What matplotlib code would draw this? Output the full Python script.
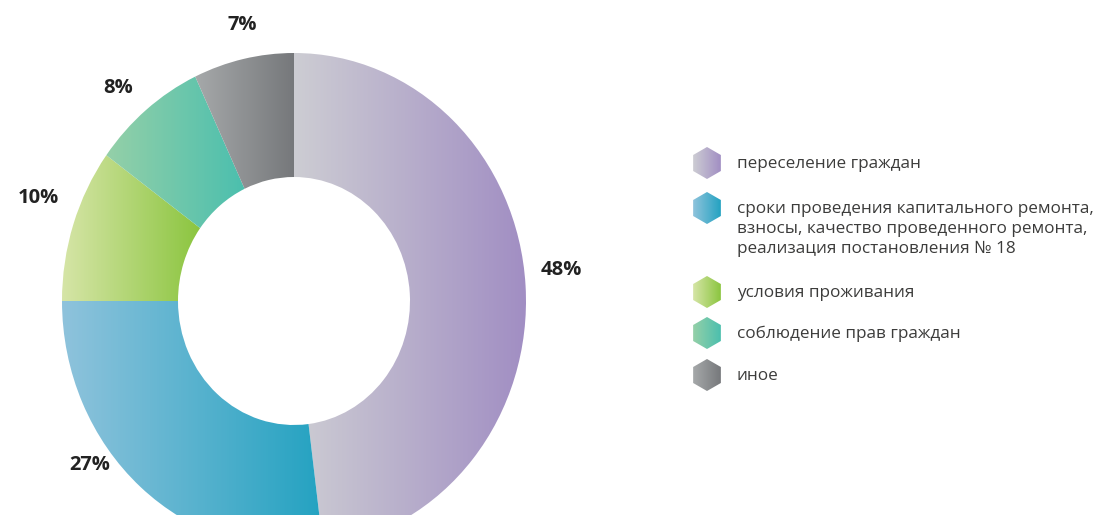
import numpy as np
import matplotlib
matplotlib.use('Agg')
from matplotlib import pyplot as plt
from matplotlib.colors import LinearSegmentedColormap
from matplotlib.patches import RegularPolygon

plt.rcParams['font.family'] = ['Open Sans', 'DejaVu Sans']

# данные
categories = ['переселение граждан',
              'сроки проведения капитального ремонта,\nвзносы, качество проведенного ремонта,\nреализация постановления № 18',
              'условия проживания',
              'соблюдение прав граждан',
              'иное']
values = [48, 27, 10, 8, 7]
grad_left = ['#cdcdd3', '#8fc3dc', '#d6e5a7', '#95d0a8', '#a6a9aa']
grad_right = ['#a18ec3', '#23a2c1', '#8bc53f', '#4bbfae', '#76787b']

# положение подписей (пиксели)
label_pos = [(561, 270), (90, 465), (38, 198), (118, 88), (242, 25)]
legend_y = [163, 208, 292, 333, 375]

W, H = 1103, 515
fig = plt.figure(figsize=(W / 100, H / 100), dpi=100)

# кольцевая диаграмма (немного вытянута по вертикали, как в оригинале)
cx, cy, rx, ry = 294, 301, 232, 248
ax = fig.add_axes([(cx - rx) / W, (H - cy - ry) / H, 2 * rx / W, 2 * ry / H])
wedges, _ = ax.pie(values, startangle=90, counterclock=False,
                   wedgeprops=dict(width=0.5, linewidth=0, facecolor='none'))
ax.set_xlim(-1, 1)
ax.set_ylim(-1, 1)
ax.set_aspect('auto')
ax.axis('off')

grad = np.linspace(0, 1, 256).reshape(1, -1)
for w, c1, c2 in zip(wedges, grad_left, grad_right):
    cmap = LinearSegmentedColormap.from_list('g', [c1, c2])
    bb = w.get_path().get_extents(w.get_patch_transform())
    im = ax.imshow(grad, cmap=cmap, aspect='auto',
                   extent=[bb.x0, bb.x1, bb.y0, bb.y1], zorder=1)
    im.set_clip_path(w)
ax.set_xlim(-1, 1)
ax.set_ylim(-1, 1)

# подписи и легенда в пиксельных координатах
ax0 = fig.add_axes([0, 0, 1, 1], facecolor='none')
ax0.set_xlim(0, W)
ax0.set_ylim(H, 0)
ax0.axis('off')

for (x, y), v in zip(label_pos, values):
    ax0.text(x, y, f'{v}%', ha='center', va='center', fontsize=14.5,
             fontweight='bold', color='#222222')

for y, name, c1, c2 in zip(legend_y, categories, grad_left, grad_right):
    hexa = RegularPolygon((707, y), numVertices=6, radius=16,
                          facecolor='none', edgecolor='none')
    ax0.add_patch(hexa)
    cmap = LinearSegmentedColormap.from_list('g', [c1, c2])
    im = ax0.imshow(grad, cmap=cmap, aspect='auto',
                    extent=[693, 721, y + 16, y - 16])
    im.set_clip_path(hexa)
    ax0.text(737, y + 21 if '\n' in name else y + 1, name, ha='left',
             va='center', fontsize=12.3, color='#3c3c3b', linespacing=1.3)

ax0.set_xlim(0, W)
ax0.set_ylim(H, 0)

fig.savefig('out.png', dpi=100)
